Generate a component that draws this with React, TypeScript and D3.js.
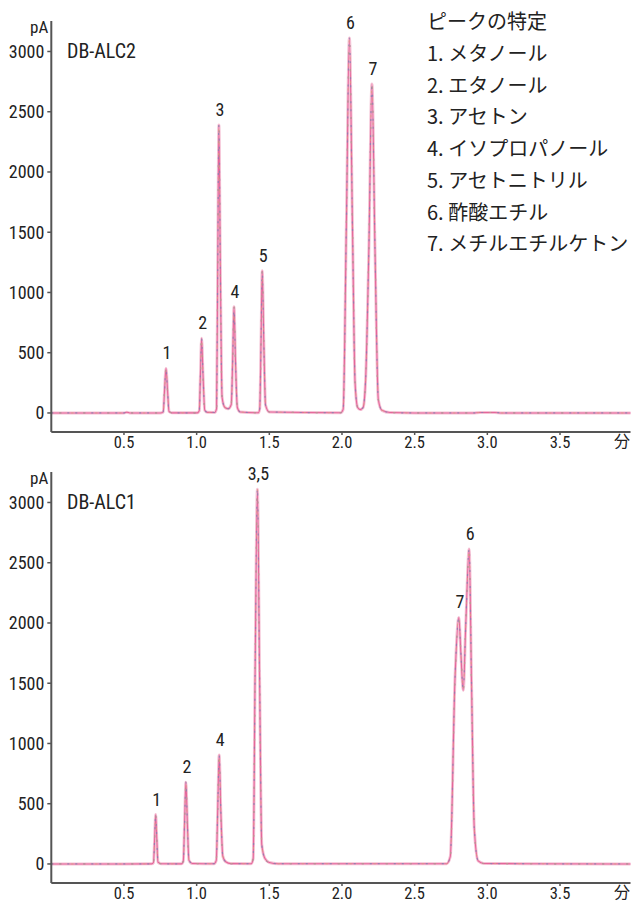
import React from 'react';
import * as d3 from 'd3';

const W = 631;
const H = 902;

const xTicks = [0.5, 1.0, 1.5, 2.0, 2.5, 3.0, 3.5];
const yTicks = [0, 500, 1000, 1500, 2000, 2500, 3000];
const xUnit = '分';
const yUnit = 'pA';

const legendTitle = 'ピークの特定';
const compounds = [
  'メタノール',
  'エタノール',
  'アセトン',
  'イソプロパノール',
  'アセトニトリル',
  '酢酸エチル',
  'メチルエチルケトン',
];

// DB-ALC2 trace, [minutes, pA]
const alc2Trace: [number, number][] = [
  [0, 0], [0.5, 0], [0.52, 6], [0.54, 0], [0.74, 0],
  [0.76, 2], [0.77, 10], [0.779, 180], [0.789, 370], [0.8, 180], [0.81, 12], [0.83, 1],
  [1.005, 1], [1.018, 18], [1.026, 310], [1.034, 620], [1.044, 310], [1.056, 22], [1.075, 5],
  [1.125, 4], [1.137, 35], [1.145, 1200], [1.153, 2390], [1.163, 1200], [1.175, 130], [1.195, 45],
  [1.217, 35], [1.238, 70], [1.248, 440], [1.257, 882], [1.267, 440], [1.28, 45], [1.3, 8],
  [1.425, 2], [1.434, 35], [1.443, 590], [1.451, 1181], [1.462, 590], [1.474, 65], [1.5, 8],
  [1.99, 2], [2.008, 30], [2.03, 1556], [2.051, 3112], [2.072, 1556], [2.09, 250], [2.108, 45],
  [2.125, 28], [2.145, 45], [2.162, 260], [2.185, 1365], [2.206, 2730], [2.227, 1365], [2.25, 110],
  [2.275, 22], [2.33, 4], [2.5, 0], [2.9, 0], [2.95, 4], [3.05, 4], [3.1, 0], [3.985, 0],
];

const alc2Peaks = [
  { label: '1', t: 0.789, v: 370 },
  { label: '2', t: 1.034, v: 620 },
  { label: '3', t: 1.153, v: 2390 },
  { label: '4', t: 1.257, v: 882 },
  { label: '5', t: 1.451, v: 1181 },
  { label: '6', t: 2.051, v: 3112 },
  { label: '7', t: 2.206, v: 2730 },
];

// DB-ALC1 trace
const alc1Trace: [number, number][] = [
  [0, 0], [0.5, 0], [0.69, 1],
  [0.703, 12], [0.711, 205], [0.718, 410], [0.726, 205], [0.734, 15], [0.755, 2],
  [0.895, 1], [0.908, 22], [0.917, 340], [0.926, 679], [0.936, 340], [0.947, 30], [0.97, 4],
  [1.12, 2], [1.135, 30], [1.145, 450], [1.155, 905], [1.166, 450], [1.18, 65], [1.2, 18], [1.235, 3],
  [1.375, 2], [1.389, 45], [1.402, 1555], [1.418, 3110], [1.433, 1555], [1.448, 160], [1.47, 45],
  [1.5, 12], [1.56, 2],
  [2.72, 2], [2.745, 60], [2.777, 1518], [2.804, 2046], [2.818, 1750], [2.834, 1441], [2.852, 2000],
  [2.875, 2613], [2.891, 1518], [2.91, 300], [2.937, 25], [2.975, 4], [3.985, 0],
];

const alc1Peaks = [
  { label: '1', t: 0.718, v: 410 },
  { label: '2', t: 0.926, v: 679 },
  { label: '4', t: 1.155, v: 905 },
  { label: '3,5', t: 1.418, v: 3110 },
  { label: '7', t: 2.804, v: 2046 },
  { label: '6', t: 2.875, v: 2613 },
];

const FONT = "'Liberation Sans Narrow', 'Arial Narrow', 'Roboto Condensed', Roboto, 'Noto Sans CJK JP', sans-serif";
const AXIS = '#555';

const x = d3.scaleLinear().domain([0, 3.985]).range([51.3, 630.5]);
const y = d3.scaleLinear().domain([-158, 3253]).range([432, 21]);

const line = d3
  .line<[number, number]>()
  .x((d) => x(d[0]))
  .y((d) => y(d[1]))
  .curve(d3.curveMonotoneX);

interface PanelProps {
  name: string;
  trace: [number, number][];
  peaks: { label: string; t: number; v: number }[];
  offset: number;
}

const Panel: React.FC<PanelProps> = ({ name, trace, peaks, offset }) => {
  const d = line(trace) || '';
  const [x0, x1] = x.range();
  const [yb, yt] = y.range();
  return (
    <g transform={`translate(0,${offset})`}>
      {/* overlaid replicate runs */}
      <path d={d} fill="none" stroke="#f5c0d4" strokeWidth={3} strokeLinejoin="round" />
      <path d={d} fill="none" stroke="#e4669a" strokeWidth={1.1} />
      <path d={d} fill="none" stroke="#8a82b2" strokeWidth={1.2} strokeDasharray="2 6" opacity={0.85} />
      <path d={d} fill="none" stroke="#d9a27c" strokeWidth={1} strokeDasharray="2 10" strokeDashoffset={4} opacity={0.75} />

      {peaks.map((p) => (
        <text
          key={p.label}
          x={x(p.t) + 1}
          y={y(p.v) - 9}
          textAnchor="middle"
          fontSize={18}
          fill="#222"
        >
          {p.label}
        </text>
      ))}

      <line x1={x0} x2={x0} y1={yt} y2={yb} stroke={AXIS} strokeWidth={2} />
      <line x1={x0} x2={x1} y1={yb} y2={yb} stroke={AXIS} strokeWidth={2} />
      {yTicks.map((t) => (
        <g key={t}>
          <line x1={x0 - 4} x2={x0} y1={y(t)} y2={y(t)} stroke={AXIS} strokeWidth={1.5} />
          <text x={x0 - 7} y={y(t)} dy="0.36em" textAnchor="end" fontSize={18} fill="#222">
            {t}
          </text>
        </g>
      ))}
      {xTicks.map((t) => (
        <g key={t}>
          <line x1={x(t)} x2={x(t)} y1={yb} y2={yb + 3} stroke={AXIS} strokeWidth={1.5} />
          <text x={x(t)} y={yb + 15.5} textAnchor="middle" fontSize={16.5} fill="#222">
            {t.toFixed(1)}
          </text>
        </g>
      ))}
      <text x={622} y={yb + 15} textAnchor="middle" fontSize={16} fill="#222" fontFamily="'Noto Sans CJK JP', sans-serif">
        {xUnit}
      </text>
      <text x={x0 - 3} y={33} textAnchor="end" fontSize={17} fill="#222">
        {yUnit}
      </text>
      <text x={67} y={58} fontSize={20} fill="#222">
        {name}
      </text>
    </g>
  );
};

const App: React.FC = () => {
  return (
    <svg
      width={W}
      height={H}
      style={{ position: 'absolute', left: 0, top: 0, background: '#fff' }}
      fontFamily={FONT}
    >
      <rect width={W} height={H} fill="#fff" />
      <Panel name="DB-ALC2" trace={alc2Trace} peaks={alc2Peaks} offset={0} />
      <Panel name="DB-ALC1" trace={alc1Trace} peaks={alc1Peaks} offset={451} />
      <g fontFamily="'Liberation Sans Narrow', 'Arial Narrow', 'Noto Sans CJK JP', sans-serif" fontSize={20} fill="#222">
        <text x={427} y={29}>{legendTitle}</text>
        {compounds.map((c, i) => (
          <text key={c} x={427} y={61 + i * 31.7}>
            {`${i + 1}. ${c}`}
          </text>
        ))}
      </g>
    </svg>
  );
};

export default App;
